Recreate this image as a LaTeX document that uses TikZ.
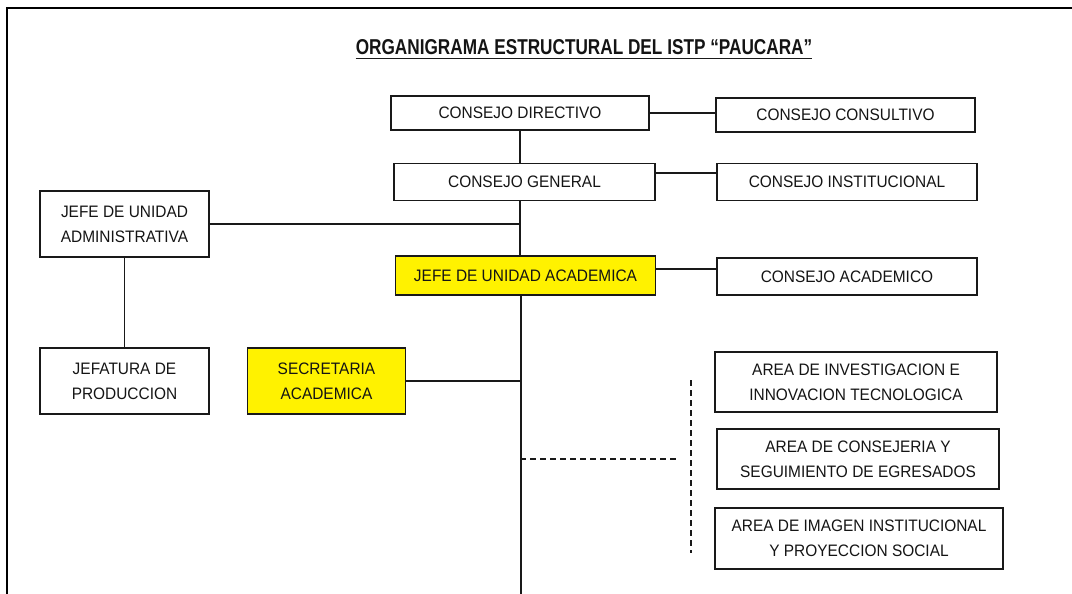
\documentclass[tikz,border=0pt]{standalone}
\usepackage{fontspec}
\setmainfont{Liberation Sans}
\newfontfamily\titlefont[FakeStretch=0.8]{Liberation Sans}
\newfontfamily\boxfont[FakeStretch=0.93]{Liberation Sans}
\begin{document}
\begin{tikzpicture}[x=1pt,y=-1pt,
  box/.style={draw=black!90, line width=1.4pt, align=center,
    font=\boxfont\fontsize{16.6}{25}\selectfont, inner sep=0pt, text=black!92},
  hl/.style={box, fill=yellow},
  conn/.style={line width=1.3pt, draw=black!90},
  dashline/.style={line width=1.2pt, draw=black!90, dash pattern=on 6pt off 4pt}]
\useasboundingbox (0,0) rectangle (1072,594);
\draw[line width=2pt] (1072,8) -- (7,8) -- (7,594);

% title
\node[anchor=base, inner sep=0pt, font=\titlefont\bfseries\fontsize{21.5}{24}\selectfont, text=black!92] (title) at (584,55)
  {ORGANIGRAMA ESTRUCTURAL DEL ISTP “PAUCARA”};
\draw[line width=1.8pt, black!90] ([yshift=-3.5pt]title.base west) -- ([yshift=-3.5pt]title.base east);

% nodes
\node[box, minimum width=258pt, minimum height=34pt] (dir) at (520,113) {CONSEJO DIRECTIVO};
\node[box, minimum width=259pt, minimum height=34pt] (cons) at (845.5,115) {CONSEJO CONSULTIVO};
\node[box, minimum width=261pt, minimum height=37pt] (gen) at (524.5,182) {CONSEJO GENERAL};
\node[box, minimum width=260pt, minimum height=37pt] (inst) at (847,182) {CONSEJO INSTITUCIONAL};
\node[box, minimum width=169pt, minimum height=66pt] (adm) at (124.5,224) {JEFE DE UNIDAD\\ADMINISTRATIVA};
\node[hl, minimum width=260pt, minimum height=39pt] (aca) at (525.5,275.5) {JEFE DE UNIDAD ACADEMICA};
\node[box, minimum width=260pt, minimum height=37pt] (cacad) at (847,276.5) {CONSEJO ACADEMICO};
\node[box, minimum width=169pt, minimum height=66pt] (prod) at (124.5,381) {JEFATURA DE\\PRODUCCION};
\node[hl, minimum width=158pt, minimum height=66pt] (sec) at (326.5,381) {SECRETARIA\\ACADEMICA};
\node[box, minimum width=282pt, minimum height=60pt] (inv) at (856,382) {AREA DE INVESTIGACION E\\INNOVACION TECNOLOGICA};
\node[box, minimum width=282pt, minimum height=60pt] (cse) at (858,459) {AREA DE CONSEJERIA Y\\SEGUIMIENTO DE EGRESADOS};
\node[box, minimum width=288pt, minimum height=61pt] (img) at (859,538.5) {AREA DE IMAGEN INSTITUCIONAL\\Y PROYECCION SOCIAL};

% helper coordinates
\coordinate (y1) at (0,113);
\coordinate (y2) at (0,173);
\coordinate (y3) at (0,269);
\coordinate (m1) at (520,224);
\coordinate (m2) at (520,381);
\coordinate (m3) at (520,459);
\coordinate (bot) at (521,594);
\coordinate (d1) at (679,459);
\coordinate (d2) at (691,380);
\coordinate (d3) at (691,553);

% connectors
\draw[conn] (dir.south) -- (dir.south |- gen.north);
\draw[conn] (dir.south |- gen.south) -- (dir.south |- aca.north);
\draw[conn] (bot |- aca.south) -- (bot);
\draw[conn] (dir.east |- y1) -- (cons.west |- y1);
\draw[conn] (gen.east |- y2) -- (inst.west |- y2);
\draw[conn] (aca.east |- y3) -- (cacad.west |- y3);
\draw[conn] (adm.east) -- (m1);
\draw[conn] (adm.south) -- (prod.north);
\draw[conn] (sec.east) -- (m2);
\draw[dashline] (m3) -- (d1);
\draw[dashline] (d2) -- (d3);
\end{tikzpicture}
\end{document}
